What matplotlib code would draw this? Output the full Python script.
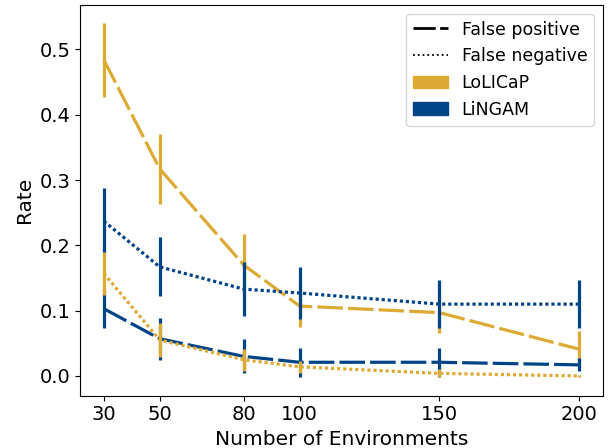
import matplotlib
matplotlib.use("Agg")
import matplotlib.pyplot as plt
from matplotlib.lines import Line2D
from matplotlib.patches import Patch

envs = [30, 50, 80, 100, 150, 200]

lolicap_fp = [0.484, 0.317, 0.170, 0.107, 0.097, 0.041]
lolicap_fp_err = [0.057, 0.054, 0.047, 0.032, 0.031, 0.028]
lolicap_fn = [0.157, 0.055, 0.025, 0.014, 0.004, 0.000]
lolicap_fn_err = [0.033, 0.026, 0.017, 0.009, 0.006, 0.002]

lingam_fp = [0.103, 0.057, 0.030, 0.021, 0.021, 0.017]
lingam_fp_err = [0.030, 0.032, 0.026, 0.022, 0.022, 0.010]
lingam_fn = [0.237, 0.167, 0.133, 0.127, 0.110, 0.110]
lingam_fn_err = [0.051, 0.045, 0.041, 0.040, 0.037, 0.037]

gold = "#DDAA33"
blue = "#004488"

fig = plt.figure(figsize=(6.11, 4.48), dpi=100)
ax = fig.add_axes([0.131, 0.117, 0.856, 0.872])

lw = 2.3
dash = (0, (8, 1.6))
dot = (0, (1, 0.9))
ax.errorbar(envs, lolicap_fp, yerr=lolicap_fp_err, color=gold, lw=lw, elinewidth=lw, linestyle=dash, zorder=2)
ax.errorbar(envs, lingam_fp, yerr=lingam_fp_err, color=blue, lw=lw, elinewidth=lw, linestyle=dash, zorder=3)
ax.errorbar(envs, lingam_fn, yerr=lingam_fn_err, color=blue, lw=lw, elinewidth=lw, linestyle=dot, zorder=3)
ax.errorbar(envs, lolicap_fn, yerr=lolicap_fn_err, color=gold, lw=lw, elinewidth=lw, linestyle=dot, zorder=4)

ax.set_xticks(envs)
ax.set_xlim(21.5, 208.5)
ax.set_ylim(-0.030, 0.568)
ax.set_yticks([0.0, 0.1, 0.2, 0.3, 0.4, 0.5])
ax.tick_params(labelsize=14)
ax.set_xlabel("Number of Environments", fontsize=14.5)
ax.set_ylabel("Rate", fontsize=14.5)

handles = [
    Line2D([], [], color="black", lw=2.0, linestyle=(0, (8, 1.6))),
    Line2D([], [], color="black", lw=1.3, linestyle=":"),
    Patch(color=gold),
    Patch(color=blue),
]
labels = ["False positive", "False negative", "LoLICaP", "LiNGAM"]
ax.legend(handles, labels, loc="upper right", fontsize=12.5)

fig.savefig("out.png", dpi=100)
